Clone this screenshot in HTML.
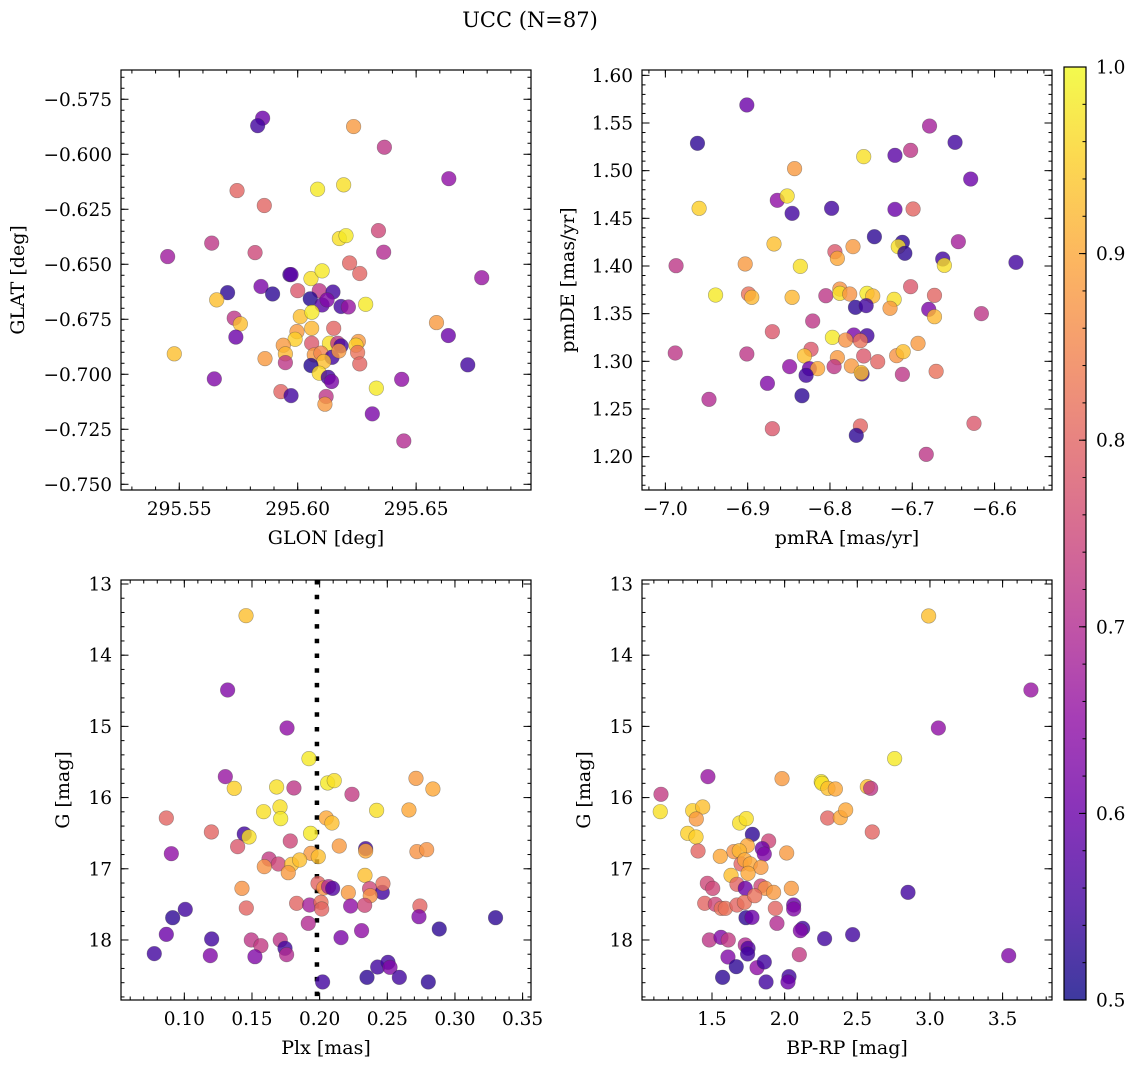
<!DOCTYPE html>
<html><head><meta charset="utf-8"><style>
html,body{margin:0;padding:0;background:#fff;}
svg{display:block;font-family:"DejaVu Serif","Liberation Serif",serif;}
</style></head><body>
<svg id="fig" width="1136" height="1067" viewBox="0 0 1136 1067" xmlns="http://www.w3.org/2000/svg">
<text x="530" y="27" font-size="21" text-anchor="middle" fill="#000">UCC (N=87)</text>
</svg>
<script>
// ---------- Data ----------
const glon=[295.5852,295.5831,295.6236,295.6366,295.6638,295.5744,295.6084,295.6194,295.5859,295.6341,295.6176,295.6204,295.5637,295.5451,295.5820,295.6363,295.6219,295.6262,295.5967,295.5972,295.6056,295.6103,295.6777,295.5845,295.5704,295.5894,295.6000,295.6091,295.6149,295.5658,295.6053,295.6103,295.6124,295.6183,295.6214,295.6287,295.6011,295.6060,295.5732,295.5758,295.6152,295.6059,295.6586,295.5739,295.5997,295.5989,295.6636,295.5939,295.6059,295.6134,295.6169,295.6183,295.6256,295.6246,295.5479,295.5948,295.5862,295.6070,295.6098,295.6145,295.6174,295.6253,295.5948,295.6110,295.6262,295.6056,295.6718,295.6091,295.6129,295.6143,295.5648,295.6439,295.6332,295.5929,295.5972,295.6120,295.6115,295.6315,295.6448];
const glat=[-0.5836,-0.5870,-0.5874,-0.5968,-0.6111,-0.6165,-0.6159,-0.6139,-0.6233,-0.6347,-0.6383,-0.6370,-0.6404,-0.6465,-0.6447,-0.6445,-0.6494,-0.6542,-0.6547,-0.6547,-0.6565,-0.6530,-0.6561,-0.6601,-0.6629,-0.6635,-0.6620,-0.6620,-0.6626,-0.6662,-0.6657,-0.6685,-0.6662,-0.6692,-0.6694,-0.6682,-0.6738,-0.6718,-0.6745,-0.6771,-0.6791,-0.6791,-0.6765,-0.6831,-0.6806,-0.6841,-0.6824,-0.6868,-0.6859,-0.6859,-0.6859,-0.6871,-0.6851,-0.6868,-0.6907,-0.6907,-0.6929,-0.6912,-0.6904,-0.6923,-0.6894,-0.6901,-0.6947,-0.6942,-0.6953,-0.6960,-0.6957,-0.6995,-0.7014,-0.7033,-0.7021,-0.7023,-0.7063,-0.7079,-0.7097,-0.7101,-0.7136,-0.7180,-0.7303];
const prob1=[0.60,0.55,0.88,0.72,0.65,0.80,0.98,0.97,0.80,0.75,0.97,0.98,0.72,0.67,0.75,0.70,0.80,0.80,0.55,0.58,0.97,0.98,0.66,0.62,0.53,0.53,0.78,0.72,0.55,0.93,0.52,0.58,0.63,0.55,0.66,0.98,0.93,0.98,0.72,0.93,0.80,0.92,0.88,0.60,0.88,0.95,0.60,0.88,0.78,0.97,0.72,0.55,0.88,0.95,0.93,0.92,0.88,0.88,0.85,0.55,0.88,0.82,0.72,0.93,0.80,0.52,0.55,0.96,0.55,0.62,0.63,0.65,0.98,0.80,0.55,0.72,0.88,0.62,0.70];

const pmra=[-6.901,-6.961,-6.679,-6.648,-6.721,-6.702,-6.759,-6.843,-6.629,-6.959,-6.864,-6.852,-6.846,-6.798,-6.721,-6.699,-6.746,-6.712,-6.717,-6.709,-6.644,-6.868,-6.794,-6.772,-6.791,-6.987,-6.903,-6.836,-6.663,-6.661,-6.574,-6.939,-6.899,-6.895,-6.846,-6.805,-6.788,-6.788,-6.776,-6.755,-6.748,-6.769,-6.756,-6.722,-6.727,-6.702,-6.673,-6.680,-6.673,-6.616,-6.821,-6.870,-6.797,-6.771,-6.755,-6.781,-6.763,-6.693,-6.988,-6.901,-6.823,-6.831,-6.759,-6.742,-6.791,-6.719,-6.711,-6.849,-6.825,-6.815,-6.795,-6.774,-6.829,-6.761,-6.762,-6.712,-6.671,-6.876,-6.834,-6.947,-6.870,-6.763,-6.768,-6.625,-6.683];
const pmde=[1.5689,1.5287,1.5468,1.5297,1.5161,1.5213,1.5147,1.5021,1.4912,1.4605,1.4689,1.4734,1.4552,1.4605,1.4594,1.4598,1.4307,1.4248,1.4203,1.4133,1.4255,1.4231,1.4150,1.4203,1.4080,1.4003,1.4021,1.3996,1.4073,1.4007,1.4038,1.3695,1.3706,1.3671,1.3671,1.3688,1.3758,1.3713,1.3706,1.3713,1.3685,1.3566,1.3584,1.3650,1.3556,1.3783,1.3692,1.3545,1.3468,1.3500,1.3423,1.3311,1.3251,1.3276,1.3269,1.3223,1.3216,1.3188,1.3087,1.3077,1.3126,1.3056,1.3056,1.2996,1.3038,1.3059,1.3101,1.2944,1.2923,1.2923,1.2944,1.2951,1.2853,1.2867,1.2881,1.2863,1.2895,1.2769,1.2639,1.2601,1.2293,1.2321,1.2223,1.2349,1.2024];
const prob2=[0.60,0.53,0.68,0.55,0.58,0.72,0.97,0.88,0.60,0.95,0.65,0.97,0.55,0.55,0.60,0.80,0.53,0.53,0.97,0.53,0.68,0.93,0.78,0.88,0.90,0.72,0.88,0.97,0.55,0.97,0.55,0.98,0.82,0.92,0.92,0.72,0.87,0.97,0.87,0.98,0.92,0.53,0.55,0.97,0.88,0.78,0.80,0.62,0.92,0.72,0.72,0.78,0.98,0.62,0.55,0.87,0.82,0.88,0.72,0.72,0.78,0.93,0.78,0.80,0.88,0.87,0.93,0.65,0.60,0.90,0.72,0.88,0.55,0.55,0.93,0.72,0.82,0.63,0.53,0.70,0.78,0.80,0.53,0.78,0.72];

const plx=[0.1456,0.1320,0.1759,0.1921,0.1303,0.1369,0.1682,0.1810,0.2059,0.2108,0.2239,0.2712,0.2837,0.1586,0.1707,0.1712,0.2421,0.2660,0.0867,0.2049,0.2091,0.1200,0.1443,0.1478,0.1933,0.1783,0.1394,0.2145,0.2340,0.2340,0.0904,0.2719,0.2791,0.1936,0.1990,0.1626,0.1695,0.1793,0.1852,0.1591,0.1768,0.2335,0.1426,0.1988,0.2030,0.2066,0.2096,0.2212,0.2369,0.2463,0.2468,0.2374,0.1458,0.1830,0.1926,0.2010,0.2015,0.2229,0.2333,0.2741,0.1007,0.0914,0.2734,0.3300,0.1916,0.2310,0.2884,0.0867,0.1202,0.1495,0.1566,0.1709,0.2158,0.0778,0.1192,0.1522,0.1744,0.1756,0.2429,0.2505,0.2520,0.2350,0.2589,0.2022,0.2803];
const gmag3=[13.445,14.489,15.023,15.453,15.706,15.870,15.851,15.865,15.795,15.762,15.954,15.730,15.879,16.198,16.132,16.296,16.179,16.174,16.287,16.287,16.357,16.483,16.511,16.553,16.502,16.610,16.689,16.680,16.717,16.750,16.788,16.759,16.731,16.783,16.830,16.863,16.933,16.938,16.877,16.970,17.055,17.092,17.275,17.204,17.270,17.251,17.275,17.335,17.279,17.331,17.209,17.378,17.551,17.485,17.509,17.471,17.565,17.523,17.513,17.523,17.570,17.687,17.673,17.687,17.766,17.869,17.846,17.921,17.986,18.000,18.080,18.000,17.967,18.192,18.220,18.235,18.117,18.206,18.380,18.314,18.384,18.525,18.525,18.590,18.590];
const prob3=[0.93,0.63,0.65,0.98,0.66,0.95,0.97,0.72,0.98,0.97,0.73,0.88,0.90,0.97,0.97,0.98,0.97,0.90,0.80,0.90,0.93,0.80,0.55,0.97,0.98,0.75,0.78,0.88,0.55,0.90,0.65,0.87,0.87,0.88,0.93,0.73,0.75,0.93,0.93,0.87,0.88,0.93,0.87,0.80,0.87,0.70,0.57,0.88,0.75,0.55,0.82,0.87,0.80,0.80,0.68,0.82,0.80,0.65,0.75,0.80,0.55,0.53,0.63,0.53,0.70,0.65,0.53,0.60,0.55,0.72,0.73,0.72,0.62,0.55,0.63,0.63,0.55,0.70,0.55,0.55,0.63,0.53,0.55,0.55,0.53];
const plxLine=0.198;

const bprp=[2.991,3.695,3.058,2.757,1.472,1.982,2.252,2.257,2.298,2.349,2.569,2.592,1.149,1.144,1.367,1.436,1.392,1.690,1.736,2.296,2.383,2.420,2.603,1.333,1.390,1.404,1.778,1.890,1.743,1.846,1.860,1.557,1.651,1.688,1.700,1.725,1.764,1.837,1.748,2.014,1.631,1.468,1.505,1.672,1.729,1.837,1.867,1.924,2.046,1.450,1.523,1.564,1.592,1.672,1.723,1.794,1.936,2.062,2.062,1.734,1.775,1.947,2.124,2.108,2.275,2.468,2.849,1.482,1.562,1.612,1.729,1.748,1.745,2.101,1.610,1.667,1.810,1.860,1.573,1.872,2.030,2.023,3.542];
const gmag4=[13.449,14.489,15.023,15.453,15.706,15.734,15.777,15.800,15.870,15.879,15.847,15.870,15.954,16.198,16.184,16.132,16.300,16.357,16.296,16.287,16.282,16.174,16.483,16.502,16.553,16.750,16.516,16.610,16.675,16.717,16.793,16.825,16.759,16.746,16.933,16.877,16.933,16.980,17.064,16.778,17.092,17.204,17.275,17.218,17.275,17.242,17.275,17.331,17.275,17.485,17.499,17.556,17.556,17.509,17.471,17.378,17.556,17.509,17.565,17.687,17.682,17.766,17.837,17.869,17.981,17.925,17.331,18.000,17.963,18.000,18.070,18.117,18.197,18.206,18.239,18.375,18.389,18.309,18.525,18.590,18.515,18.590,18.220];
const prob4=[0.93,0.66,0.65,0.98,0.66,0.88,0.98,0.97,0.93,0.90,0.93,0.72,0.73,0.97,0.95,0.93,0.88,0.97,0.97,0.80,0.90,0.90,0.80,0.95,0.95,0.80,0.53,0.75,0.90,0.60,0.63,0.90,0.87,0.92,0.80,0.90,0.90,0.88,0.90,0.88,0.93,0.75,0.75,0.80,0.60,0.75,0.87,0.88,0.88,0.80,0.75,0.82,0.82,0.80,0.82,0.82,0.80,0.60,0.63,0.53,0.60,0.70,0.55,0.63,0.55,0.55,0.55,0.72,0.63,0.73,0.70,0.57,0.55,0.73,0.63,0.53,0.65,0.55,0.53,0.55,0.55,0.60,0.63];

const p1xt=[295.55,295.60,295.65], p1xl=["295.55","295.60","295.65"];
const p1yt=[-0.575,-0.600,-0.625,-0.650,-0.675,-0.700,-0.725,-0.750], p1yl=["\u22120.575","\u22120.600","\u22120.625","\u22120.650","\u22120.675","\u22120.700","\u22120.725","\u22120.750"];
const p2xt=[-7.0,-6.9,-6.8,-6.7,-6.6], p2xl=["\u22127.0","\u22126.9","\u22126.8","\u22126.7","\u22126.6"];
const p2yt=[1.20,1.25,1.30,1.35,1.40,1.45,1.50,1.55,1.60], p2yl=["1.20","1.25","1.30","1.35","1.40","1.45","1.50","1.55","1.60"];
const p3xt=[0.10,0.15,0.20,0.25,0.30,0.35], p3xl=["0.10","0.15","0.20","0.25","0.30","0.35"];
const gyt=[13,14,15,16,17,18], gyl=["13","14","15","16","17","18"];
const p4xt=[1.5,2.0,2.5,3.0,3.5], p4xl=["1.5","2.0","2.5","3.0","3.5"];
const cbt=[0.5,0.6,0.7,0.8,0.9,1.0], cbl=["0.5","0.6","0.7","0.8","0.9","1.0"];

// ---------- Rendering ----------
const NS="http://www.w3.org/2000/svg";
const svg=document.getElementById('fig');
const TF=18.5, LF=19;
function mk(tag,attrs,parent){const e=document.createElementNS(NS,tag);for(const k in attrs)e.setAttribute(k,attrs[k]);(parent||svg).appendChild(e);return e;}
const plasma=[[13,8,135],[65,4,157],[106,0,168],[143,13,164],[177,42,144],[204,71,120],[225,100,98],[242,132,75],[252,166,54],[252,206,37],[240,249,33]];
function cmap(p){let t=Math.max(0,Math.min(1,(p-0.5)/0.5))*10;let i=Math.min(9,Math.floor(t)),f=t-i;const a=plasma[i],b=plasma[i+1];
 return 'rgb('+a.map((v,k)=>Math.round(v+(b[k]-v)*f)).join(',')+')';}

function panel(o){
 const g=mk('g',{});
 
 
 const L=o.box[0],T=o.box[1],R=o.box[2],B=o.box[3];
 const sx=v=>L+(v-o.xr[0])/(o.xr[1]-o.xr[0])*(R-L);
 const sy=v=>o.inv? T+(v-o.yr[0])/(o.yr[1]-o.yr[0])*(B-T) : B-(v-o.yr[0])/(o.yr[1]-o.yr[0])*(B-T);
 const clip=mk('clipPath',{id:o.name+'-clip'},g);mk('rect',{x:L,y:T,width:R-L,height:B-T},clip);
 const pg=mk('g',{'clip-path':'url(#'+o.name+'-clip)'},g);
 if(o.vline!==undefined){const ln=mk('line',{x1:sx(o.vline),x2:sx(o.vline),y1:T,y2:B,stroke:'#000','stroke-width':4.5,'stroke-dasharray':'4.5 10.2'},pg);
  
  }
 for(let i=0;i<o.x.length;i++){
  const c=mk('circle',{cx:sx(o.x[i]),cy:sy(o.y[i]),r:7.3,fill:cmap(o.c[i]),'fill-opacity':0.8,stroke:'rgba(60,60,60,0.45)','stroke-width':0.6},pg);
  
  
 }
 const tk=mk('g',{stroke:'#000','stroke-width':1},g);
 for(let v=o.xmin[0];v<=o.xr[1]+1e-9;v+=o.xmin[1]){const X=sx(v);if(X<L-0.5||X>R+0.5)continue;
  mk('line',{x1:X,x2:X,y1:B,y2:B-3.5},tk);mk('line',{x1:X,x2:X,y1:T,y2:T+3.5},tk);}
 for(let v=o.ymin[0];v<=o.yr[1]+1e-9;v+=o.ymin[1]){const Y=sy(v);if(Y<T-0.5||Y>B+0.5)continue;
  mk('line',{x1:L,x2:L+3.5,y1:Y,y2:Y},tk);mk('line',{x1:R,x2:R-3.5,y1:Y,y2:Y},tk);}
 o.xt.forEach((v,i)=>{const X=sx(v);mk('line',{x1:X,x2:X,y1:B,y2:B-7.5},tk);mk('line',{x1:X,x2:X,y1:T,y2:T+7.5},tk);
  const t=mk('text',{x:X,y:B+25,'font-size':TF,'text-anchor':'middle',fill:'#000'},g);t.textContent=o.xl[i];
  
  });
 o.yt.forEach((v,i)=>{const Y=sy(v);mk('line',{x1:L,x2:L+7.5,y1:Y,y2:Y},tk);mk('line',{x1:R,x2:R-7.5,y1:Y,y2:Y},tk);
  const t=mk('text',{x:L-9,y:Y+6.5,'font-size':TF,'text-anchor':'end',fill:'#000'},g);t.textContent=o.yl[i];
  
  });
 const fr=mk('rect',{x:L,y:T,width:R-L,height:B-T,fill:'none',stroke:'#000','stroke-width':1.2},g);
 
 
 const xt=mk('text',{x:(L+R)/2,y:B+54,'font-size':LF,'text-anchor':'middle',fill:'#000'},g);xt.textContent=o.xlab;
 
 
 const yx=o.ylx, yy=(T+B)/2;
 const yt=mk('text',{x:yx,y:yy,'font-size':LF,'text-anchor':'middle',fill:'#000',transform:'rotate(-90 '+yx+' '+yy+')'},g);yt.textContent=o.ylab;
 
 
}

panel({name:'glon-glat-panel',box:[121,70,531,490],xr:[295.5254,295.6985],yr:[-0.7526,-0.5617],x:glon,y:glat,c:prob1,
 xt:p1xt,xl:p1xl,yt:p1yt,yl:p1yl,xmin:[295.53,0.01],ymin:[-0.750,0.005],xlab:'GLON [deg]',ylab:'GLAT [deg]',ylx:24});
panel({name:'pm-panel',box:[642,70,1052,490],xr:[-7.0284,-6.5302],yr:[1.1650,1.6056],x:pmra,y:pmde,c:prob2,
 xt:p2xt,xl:p2xl,yt:p2yt,yl:p2yl,xmin:[-7.02,0.02],ymin:[1.17,0.01],xlab:'pmRA [mas/yr]',ylab:'pmDE [mas/yr]',ylx:574});
panel({name:'plx-g-panel',box:[121,580,531,1000],xr:[0.0532,0.3562],yr:[12.944,18.843],inv:true,x:plx,y:gmag3,c:prob3,vline:plxLine,
 xt:p3xt,xl:p3xl,yt:gyt,yl:gyl,xmin:[0.06,0.01],ymin:[13.0,0.2],xlab:'Plx [mas]',ylab:'G [mag]',ylx:69});
panel({name:'cmd-panel',box:[642,580,1052,1000],xr:[1.0183,3.840],yr:[12.944,18.843],inv:true,x:bprp,y:gmag4,c:prob4,
 xt:p4xt,xl:p4xl,yt:gyt,yl:gyl,xmin:[1.1,0.1],ymin:[13.0,0.2],xlab:'BP-RP [mag]',ylab:'G [mag]',ylx:590});

(function(){
 const L=1064,R=1086,T=67,B=1000;
 const defs=mk('defs',{});const lg=mk('linearGradient',{id:'cbg',x1:0,y1:1,x2:0,y2:0},defs);
 for(let i=0;i<=20;i++){mk('stop',{offset:i/20,'stop-color':cmap(0.5+i/40),'stop-opacity':0.8},lg);}
 const g=mk('g',{});
 
 
 mk('rect',{x:L,y:T,width:R-L,height:B-T,fill:'url(#cbg)'},g);
 const sy=v=>B-(v-0.5)/0.5*(B-T);
 for(let v=0.52;v<1.0;v+=0.02){const Y=sy(v);mk('line',{x1:R,x2:R-3.5,y1:Y,y2:Y,stroke:'#000','stroke-width':1},g);}
 cbt.forEach((v,i)=>{const Y=sy(v);mk('line',{x1:R,x2:R-7,y1:Y,y2:Y,stroke:'#000','stroke-width':1},g);
  const t=mk('text',{x:R+10,y:Y+6.5,'font-size':TF,fill:'#000'},g);t.textContent=cbl[i];
  
  });
 mk('rect',{x:L,y:T,width:R-L,height:B-T,fill:'none',stroke:'#000','stroke-width':1.2},g);
})();
</script>
</body></html>
